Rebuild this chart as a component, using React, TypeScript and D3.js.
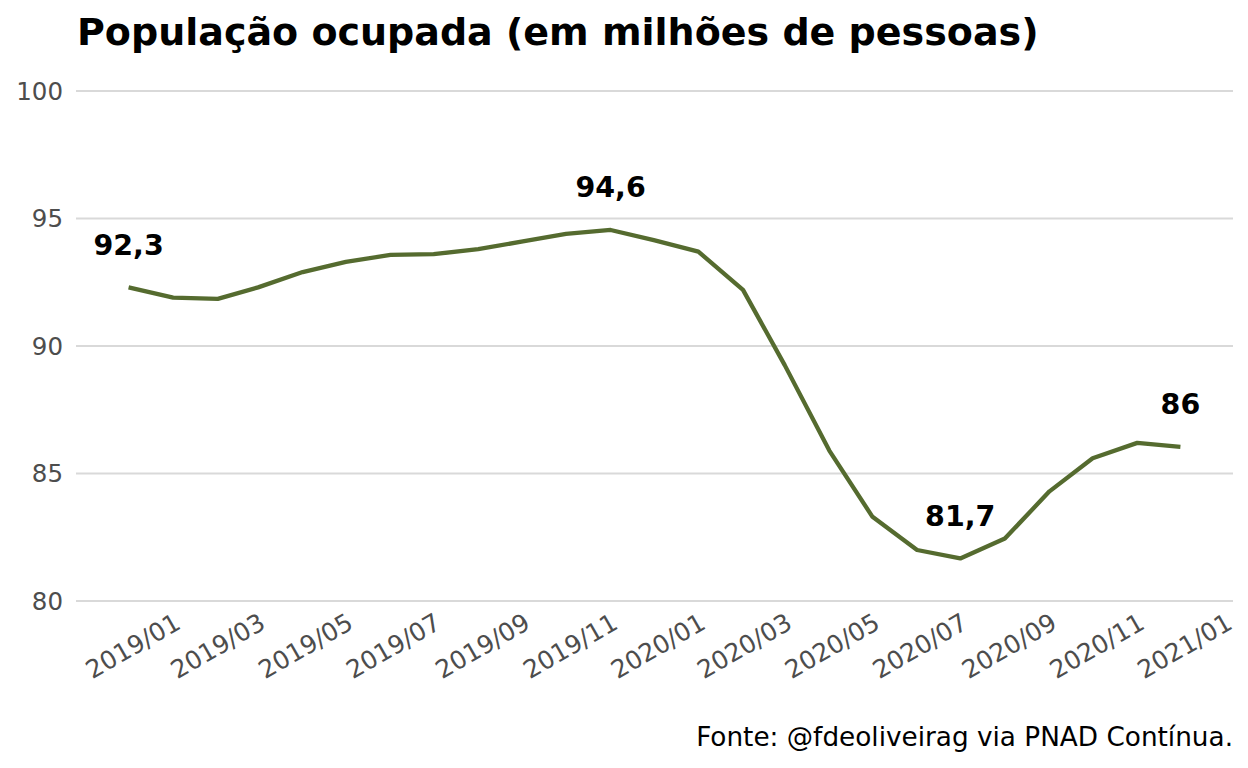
import React from 'react';
import * as d3 from 'd3';

// trimestre móvel, mês central
const months = [
  '2018-12', '2019-01', '2019-02', '2019-03', '2019-04', '2019-05', '2019-06',
  '2019-07', '2019-08', '2019-09', '2019-10', '2019-11', '2019-12', '2020-01',
  '2020-02', '2020-03', '2020-04', '2020-05', '2020-06', '2020-07', '2020-08',
  '2020-09', '2020-10', '2020-11', '2020-12',
];
const ocupados = [
  92.3, 91.9, 91.85, 92.3, 92.9, 93.3, 93.57, 93.6, 93.8, 94.1, 94.4, 94.55,
  94.15, 93.7, 92.2, 89.25, 85.9, 83.3, 82.0, 81.67, 82.45, 84.3, 85.6, 86.2,
  86.04,
];
// pontos com rótulo
const labelIdx = [0, 11, 19, 24];
const yTicks = [80, 85, 90, 95, 100];

const W = 1248;
const H = 768;
const FONT = 'DejaVu Sans, sans-serif';

const parse = d3.timeParse('%Y-%m');

export default function App() {
  const data = months.map((m, i) => ({ date: parse(m) as Date, value: ocupados[i] }));

  const left = 76;
  const right = 1233;
  const [d0, d1] = d3.extent(data, (d) => d.date) as [Date, Date];
  const span = +d1 - +d0;
  const x = d3
    .scaleTime()
    .domain([new Date(+d0 - span * 0.05), new Date(+d1 + span * 0.05)])
    .range([left, right]);
  const y = d3.scaleLinear().domain([80, 100]).range([601, 91]);

  const xTicks = d3.timeMonth.range(parse('2019-01') as Date, parse('2021-02') as Date, 2);
  const fmt = d3.timeFormat('%Y/%m');

  const line = d3
    .line<{ date: Date; value: number }>()
    .x((d) => x(d.date))
    .y((d) => y(d.value));

  const labelText = (v: number) => {
    const r = Math.round(v * 10) / 10;
    return Number.isInteger(r) ? String(r) : r.toFixed(1).replace('.', ',');
  };

  return (
    <svg width={W} height={H} style={{ position: 'absolute', left: 0, top: 0 }} fontFamily={FONT}>
      <rect width={W} height={H} fill="#fff" />
      <text x={77} y={45} fontSize={38} fontWeight="bold" fill="#000">
        População ocupada (em milhões de pessoas)
      </text>

      {yTicks.map((t) => (
        <g key={t}>
          <line x1={left} x2={right} y1={y(t)} y2={y(t)} stroke="#d9d9d9" strokeWidth={2} />
          <text x={63} y={y(t)} dy="0.36em" textAnchor="end" fontSize={24.5} fill="#4d4d4d">
            {t}
          </text>
        </g>
      ))}

      {xTicks.map((t) => (
        <text
          key={+t}
          transform={`translate(${x(t)},612) rotate(-30)`}
          textAnchor="end"
          dy="0.72em"
          fontSize={25}
          fill="#4d4d4d"
        >
          {fmt(t)}
        </text>
      ))}

      <path d={line(data) || ''} fill="none" stroke="#556b2f" strokeWidth={4.3} strokeLinejoin="round" />

      {labelIdx.map((i) => (
        <text
          key={i}
          x={x(data[i].date)}
          y={y(data[i].value + 1.68)}
          dy="0.36em"
          textAnchor="middle"
          fontSize={28.5}
          fontWeight="bold"
          fill="#000"
        >
          {labelText(data[i].value)}
        </text>
      ))}

      <text x={1233} y={746} textAnchor="end" fontSize={26.3} fill="#000">
        Fonte: @fdeoliveirag via PNAD Contínua.
      </text>
    </svg>
  );
}
